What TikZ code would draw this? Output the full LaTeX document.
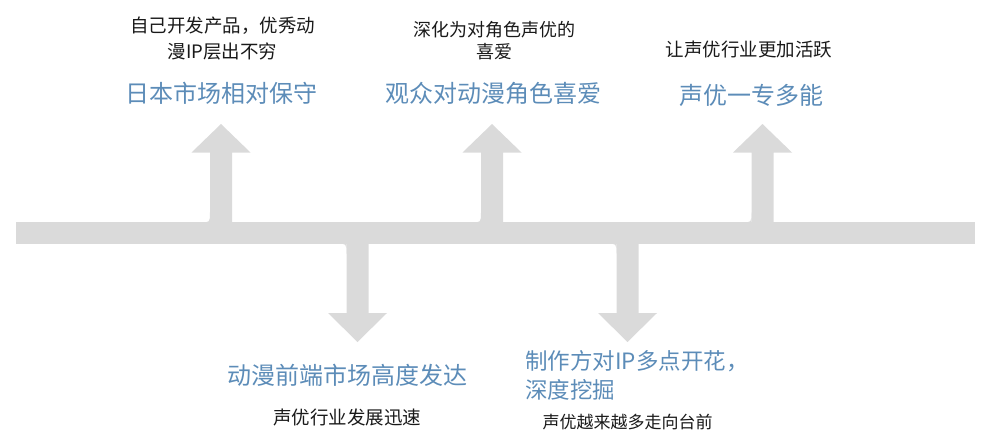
\documentclass[tikz,border=0pt]{standalone}
\usepackage{fontspec}
\setmainfont{Noto Sans CJK SC}
\definecolor{barg}{RGB}{218,218,218}
\definecolor{tblue}{RGB}{92,140,184}
\definecolor{tblack}{RGB}{25,25,25}
\begin{document}
\begin{tikzpicture}[x=1pt,y=-1pt,
  shp/.style={fill=barg},
  note/.style={font=\fontsize{18.5}{26}\selectfont, text=tblack, inner sep=0pt, align=center},
  ttl/.style={font=\fontsize{24}{29}\selectfont, text=tblue, inner sep=0pt, align=center}]
\useasboundingbox (0,0) rectangle (996,445);
% main bar
\fill[shp] (16,222) rectangle (975,244);
% up arrows
\foreach \c in {221,492,762.5}{
  \fill[shp] (\c-11,223) -- (\c-11,152.5) -- (\c-29.5,152.5) -- (\c,124) -- (\c+29.5,152.5) -- (\c+11,152.5) -- (\c+11,223) -- cycle;
  \fill[shp] (\c-21,222.5) .. controls (\c-11,222.5) .. (\c-11,212) -- (\c-11,222.5) -- cycle;
}
% down arrows
\foreach \c in {357.5,627.5}{
  \fill[shp] (\c-11,243) -- (\c-11,313) -- (\c-29.5,313) -- (\c,342) -- (\c+29.5,313) -- (\c+11,313) -- (\c+11,243) -- cycle;
  \fill[shp] (\c-21,243.5) .. controls (\c-11,243.5) .. (\c-11,254) -- (\c-11,243.5) -- cycle;
}
% texts
\node[note] (n1) at (222.5,39) {自己开发产品，优秀动\\漫IP层出不穷};
\node[ttl] (t1) at (221,93) {日本市场相对保守};
\node[note, font=\fontsize{18}{22}\selectfont] (n2) at (494,41) {深化为对角色声优的\\喜爱};
\node[ttl] (t2) at (493.5,93) {观众对动漫角色喜爱};
\node[note] (n3) at (749,49) {让声优行业更加活跃};
\node[ttl] (t3) at (751.5,95) {声优一专多能};
\node[ttl] (t4) at (347,375) {动漫前端市场高度发达};
\node[note] (n4) at (347,417) {声优行业发展迅速};
\node[ttl, font=\fontsize{22.5}{29}\selectfont, align=left, anchor=west] (t5) at (525,375.5) {制作方对IP多点开花，\\深度挖掘};
\node[note, font=\fontsize{17}{20}\selectfont] (n5) at (627.5,422) {声优越来越多走向台前};
\end{tikzpicture}
\end{document}
